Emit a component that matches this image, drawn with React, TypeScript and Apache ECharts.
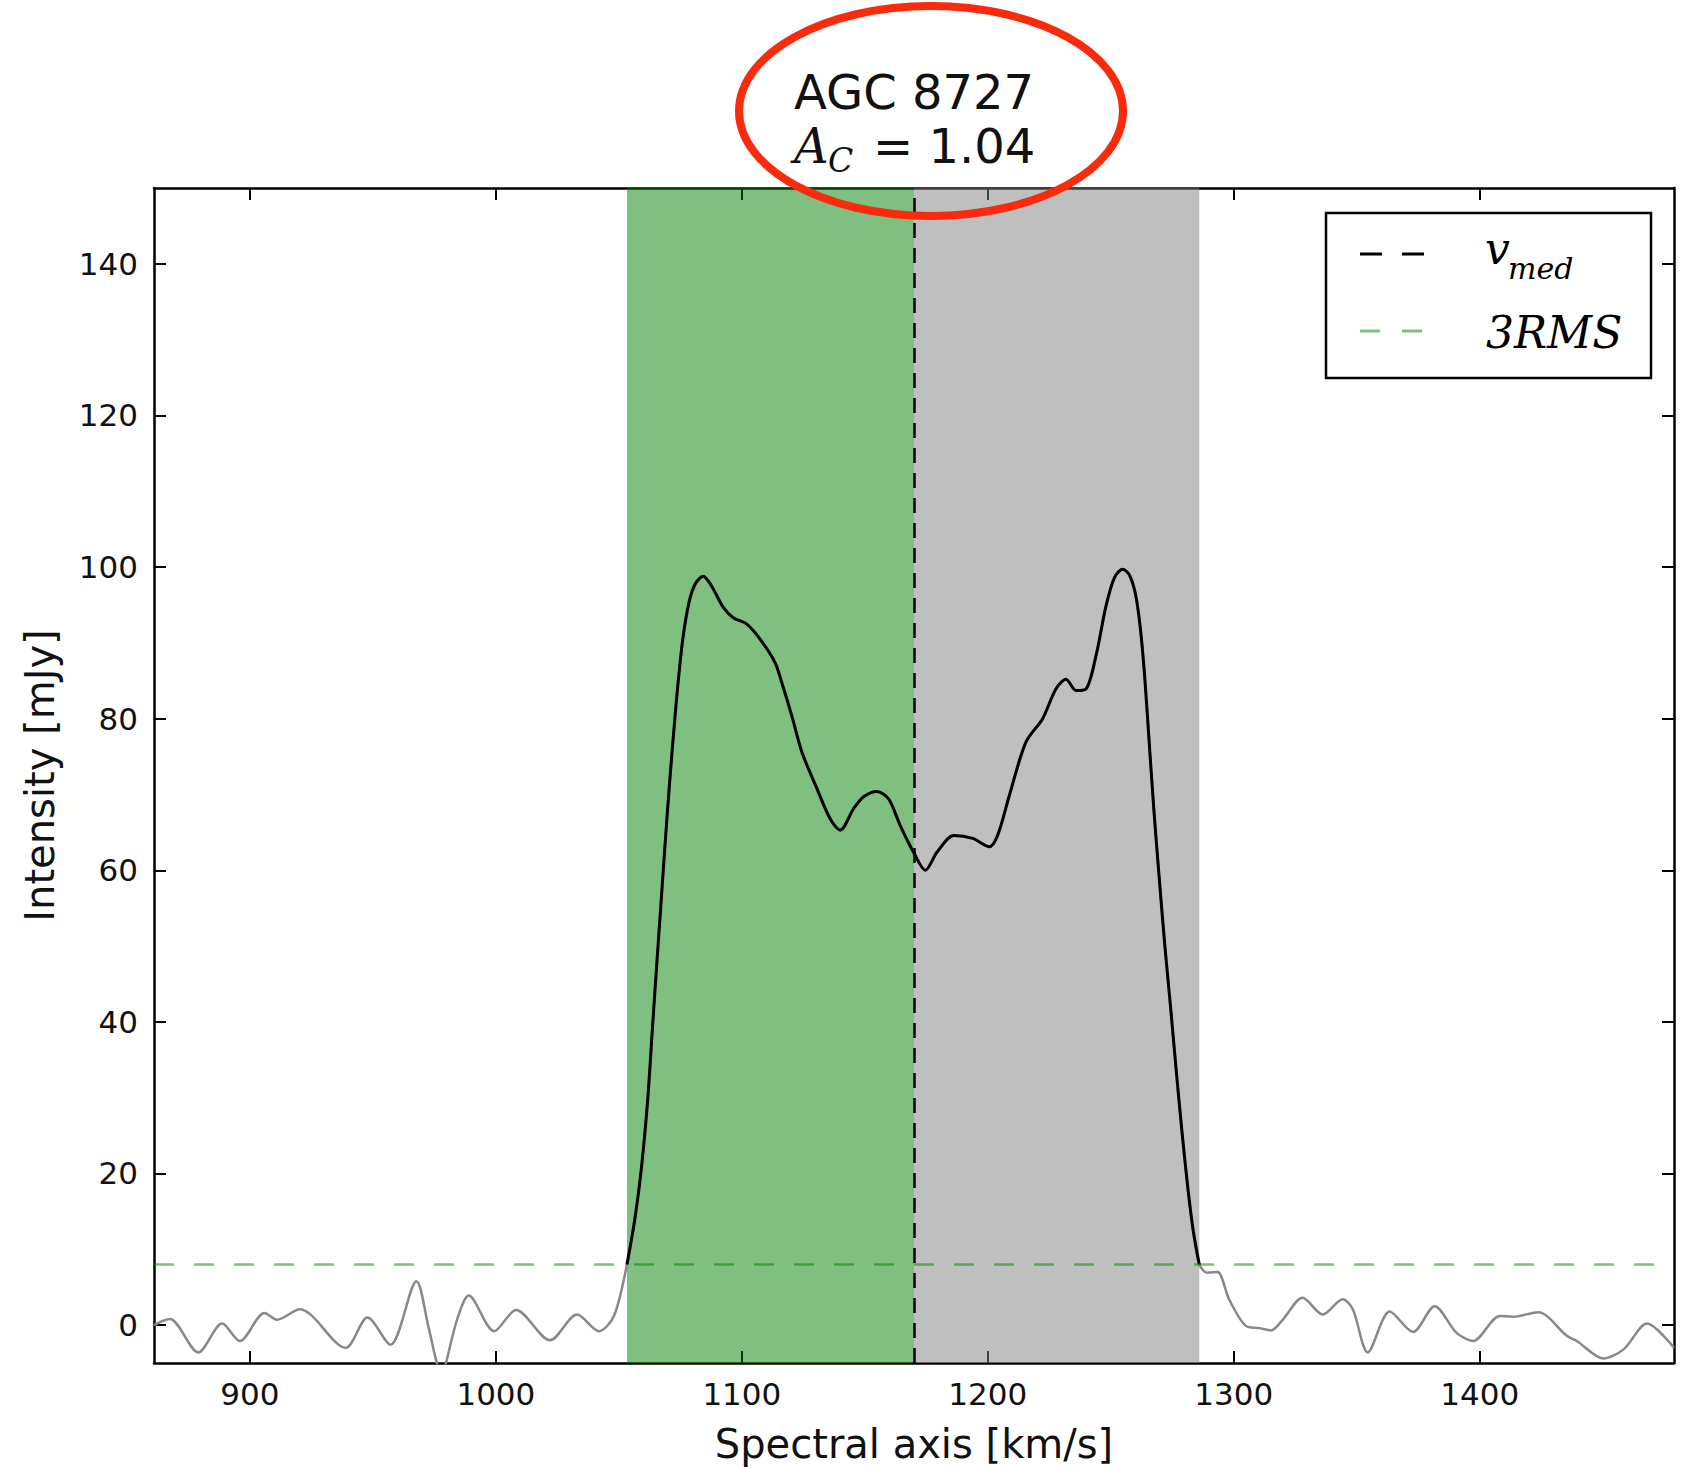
import React, { useEffect, useRef } from "react";
import * as echarts from "echarts";

// Spectrum (velocity in km/s, intensity in mJy)
const velocity = [
  861.0, 867.4, 879.0, 888.7, 895.9, 905.9, 911.0, 920.3, 938.9, 947.8, 957.1, 967.7,
  972.5, 976.0, 978.0, 979.7, 984.2, 989.0, 999.3, 1008.2, 1022.0, 1033.0, 1041.9, 1048.0,
  1053.3, 1056.6, 1059.2, 1061.7, 1063.5, 1065.3, 1067.0, 1068.7, 1070.5, 1073.1, 1075.8,
  1078.5, 1081.1, 1084.3, 1087.7, 1092.4, 1096.5, 1101.9, 1107.4, 1113.5, 1116.2, 1120.3,
  1124.4, 1130.5, 1135.9, 1140.0, 1145.4, 1149.5, 1154.9, 1159.7, 1164.4, 1170.1, 1174.6,
  1179.4, 1186.2, 1193.9, 1200.6, 1204.0, 1208.8, 1215.5, 1222.3, 1227.7, 1231.8, 1235.9,
  1239.9, 1244.0, 1248.1, 1251.5, 1254.8, 1257.5, 1260.0, 1262.0, 1263.8, 1265.6, 1267.5,
  1269.6, 1272.0, 1274.3, 1276.5, 1278.8, 1281.2, 1283.5, 1286.0, 1289.3, 1293.4, 1298.1,
  1304.9, 1310.4, 1315.1, 1319.9, 1328.0, 1336.2, 1344.3, 1348.4, 1354.5, 1363.4, 1372.9,
  1381.7, 1390.5, 1397.3, 1408.2, 1413.6, 1423.8, 1435.4, 1439.5, 1450.3, 1458.5, 1468.0,
  1479.0,
];
const intensity = [
  0.0, 0.8, -3.6, 0.2, -2.1, 1.6, 0.7, 2.1, -3.0, 1.0, -2.6, 5.8,
  -0.1, -5.0, -6.5, -5.0, 0.7, 3.9, -0.8, 2.0, -2.0, 1.4, -0.8, 1.2,
  8.0, 14.2, 20.8, 29.6, 38.4, 47.1, 55.0, 63.0, 71.0, 81.3, 90.0,
  95.3, 97.8, 98.8, 97.5, 94.7, 93.3, 92.5, 90.5, 87.4, 84.8, 80.4,
  75.6, 70.8, 66.8, 65.3, 68.1, 69.7, 70.4, 69.4, 65.9, 62.2, 60.0,
  62.4, 64.6, 64.2, 63.1, 64.6, 69.9, 76.9, 80.0, 83.9, 85.2, 83.7,
  83.9, 88.3, 94.9, 98.6, 99.7, 99.0, 96.5, 92.0, 85.5, 77.0, 68.1,
  59.4, 50.0, 42.0, 34.0, 26.0, 18.5, 12.5, 8.0, 6.9, 7.0, 3.4,
  -0.1, -0.4, -0.7, 0.7, 3.6, 1.4, 3.4, 2.1, -3.6, 1.8, -0.9,
  2.5, -1.0, -2.1, 1.2, 1.1, 1.7, -1.4, -2.1, -4.4, -3.2, 0.2,
  -3.0,
];

const xTicks = [900, 1000, 1100, 1200, 1300, 1400];
const yTicks = [0, 20, 40, 60, 80, 100, 120, 140];
const xRange = [861, 1479];
const yRange = [-5, 150];
const greenBand = [1053.3, 1170];
const grayBand = [1170, 1286];
const vMed = 1170;
const rms3 = 8.0;

const titleLine1 = "AGC 8727";
const acValue = "= 1.04";

export default function App() {
  const ref = useRef<HTMLDivElement>(null);

  useEffect(() => {
    const chart = echarts.init(ref.current!, null, { renderer: "svg" });
    const full = velocity.map((v, i) => [v, intensity[i]]);
    const signal = full.filter(
      ([v]) => v >= greenBand[0] - 0.01 && v <= grayBand[1] + 0.01
    );

    const axisLine = { show: true, onZero: false, lineStyle: { color: "#000", width: 2.5 } };
    const tickStyle = { color: "#000", width: 2 };
    const labelFont = { fontSize: 31, fontFamily: "DejaVu Sans", color: "#111" };
    const nameFont = { fontSize: 40, fontFamily: "DejaVu Sans", color: "#111" };
    const plain = (v: number) => String(v);

    chart.setOption({
      animation: false,
      backgroundColor: "#fff",
      grid: {
        left: 154,
        top: 188,
        width: 1520,
        height: 1175,
        containLabel: false,
        outerBoundsMode: "none",
      },
      xAxis: [
        {
          type: "value",
          min: xRange[0],
          max: xRange[1],
          position: "bottom",
          axisLine,
          axisTick: { show: true, inside: true, length: 12, lineStyle: tickStyle, customValues: xTicks },
          axisLabel: { ...labelFont, margin: 15, customValues: xTicks, formatter: plain },
          splitLine: { show: false },
          name: "Spectral axis [km/s]",
          nameLocation: "middle",
          nameGap: 61,
          nameTextStyle: nameFont,
        },
        {
          type: "value",
          min: xRange[0],
          max: xRange[1],
          position: "top",
          axisLine,
          axisTick: { show: true, inside: true, length: 12, lineStyle: tickStyle, customValues: xTicks },
          axisLabel: { show: false },
          splitLine: { show: false },
        },
      ],
      yAxis: [
        {
          type: "value",
          min: yRange[0],
          max: yRange[1],
          position: "left",
          axisLine,
          axisTick: { show: true, inside: true, length: 12, lineStyle: tickStyle, customValues: yTicks },
          axisLabel: { ...labelFont, margin: 16, customValues: yTicks, formatter: plain },
          splitLine: { show: false },
          name: "Intensity [mJy]",
          nameLocation: "middle",
          nameRotate: 90,
          nameGap: 94,
          nameTextStyle: nameFont,
        },
        {
          type: "value",
          min: yRange[0],
          max: yRange[1],
          position: "right",
          axisLine,
          axisTick: { show: true, inside: true, length: 12, lineStyle: tickStyle, customValues: yTicks },
          axisLabel: { show: false },
          splitLine: { show: false },
        },
      ],
      series: [
        {
          type: "line",
          data: full,
          showSymbol: false,
          silent: true,
          lineStyle: { opacity: 0 },
          z: 1,
          markArea: {
            silent: true,
            data: [
              [
                { xAxis: greenBand[0], itemStyle: { color: "rgba(0,128,0,0.5)" } },
                { xAxis: greenBand[1] },
              ],
              [
                { xAxis: grayBand[0], itemStyle: { color: "rgba(128,128,128,0.5)" } },
                { xAxis: grayBand[1] },
              ],
            ],
          },
        },
        {
          type: "line",
          data: full,
          showSymbol: false,
          silent: true,
          lineStyle: { opacity: 0 },
          z: 2,
          markLine: {
            silent: true,
            symbol: ["none", "none"],
            label: { show: false },
            data: [
              {
                yAxis: rms3,
                lineStyle: { color: "rgba(0,128,0,0.5)", width: 2.5, type: [20, 20] },
              },
              {
                xAxis: vMed,
                lineStyle: { color: "#000", width: 2.5, type: [15, 10] },
              },
            ],
          },
        },
        {
          type: "line",
          data: full,
          showSymbol: false,
          smooth: 0.3,
          silent: true,
          lineStyle: { color: "#888", width: 2.5 },
          z: 3,
        },
        {
          type: "line",
          data: signal,
          showSymbol: false,
          smooth: 0.3,
          silent: true,
          lineStyle: { color: "#000", width: 3 },
          z: 4,
        },
      ],
      graphic: [
        // legend box
        {
          type: "rect",
          shape: { x: 1326, y: 213, width: 325, height: 165 },
          style: { fill: "#fff", stroke: "#000", lineWidth: 2.5 },
          z: 100,
        },
        {
          type: "line",
          shape: { x1: 1360, y1: 254, x2: 1424, y2: 254 },
          style: { stroke: "#000", lineWidth: 3, lineDash: [22, 20] },
          z: 101,
        },
        {
          type: "line",
          shape: { x1: 1360, y1: 331, x2: 1424, y2: 331 },
          style: { stroke: "rgba(0,128,0,0.5)", lineWidth: 3, lineDash: [20, 22] },
          z: 101,
        },
        {
          type: "text",
          x: 1485,
          y: 248,
          style: {
            text: "v",
            fontFamily: "DejaVu Serif",
            fontStyle: "italic",
            fontSize: 44,
            fill: "#000",
            align: "left",
            verticalAlign: "middle",
          },
          z: 101,
        },
        {
          type: "text",
          x: 1508,
          y: 268,
          style: {
            text: "med",
            fontFamily: "DejaVu Serif",
            fontStyle: "italic",
            fontSize: 30,
            fill: "#000",
            align: "left",
            verticalAlign: "middle",
          },
          z: 101,
        },
        {
          type: "text",
          x: 1486,
          y: 332,
          style: {
            text: "3RMS",
            fontFamily: "DejaVu Serif",
            fontStyle: "italic",
            fontSize: 44,
            fill: "#000",
            align: "left",
            verticalAlign: "middle",
          },
          z: 101,
        },
        // title
        {
          type: "text",
          x: 914,
          y: 92,
          style: {
            text: titleLine1,
            fontFamily: "DejaVu Sans",
            fontSize: 48,
            fill: "#111",
            align: "center",
            verticalAlign: "middle",
          },
          z: 150,
        },
        {
          type: "text",
          x: 794,
          y: 146,
          style: {
            text: "A",
            fontFamily: "DejaVu Serif",
            fontStyle: "italic",
            fontSize: 48,
            fill: "#111",
            align: "left",
            verticalAlign: "middle",
          },
          z: 150,
        },
        {
          type: "text",
          x: 828,
          y: 160,
          style: {
            text: "C",
            fontFamily: "DejaVu Serif",
            fontStyle: "italic",
            fontSize: 33,
            fill: "#111",
            align: "left",
            verticalAlign: "middle",
          },
          z: 150,
        },
        {
          type: "text",
          x: 873,
          y: 146,
          style: {
            text: acValue,
            fontFamily: "DejaVu Sans",
            fontSize: 48,
            fill: "#111",
            align: "left",
            verticalAlign: "middle",
          },
          z: 150,
        },
        // red annotation ellipse
        {
          type: "ellipse",
          shape: { cx: 931, cy: 111, rx: 192, ry: 105 },
          style: { fill: "rgba(0,0,0,0)", stroke: "#fa2a0c", lineWidth: 8 },
          z: 200,
        },
      ],
    });

    return () => chart.dispose();
  }, []);

  return (
    <div
      ref={ref}
      style={{ position: "absolute", left: 0, top: 0, width: 1681, height: 1468 }}
    />
  );
}
